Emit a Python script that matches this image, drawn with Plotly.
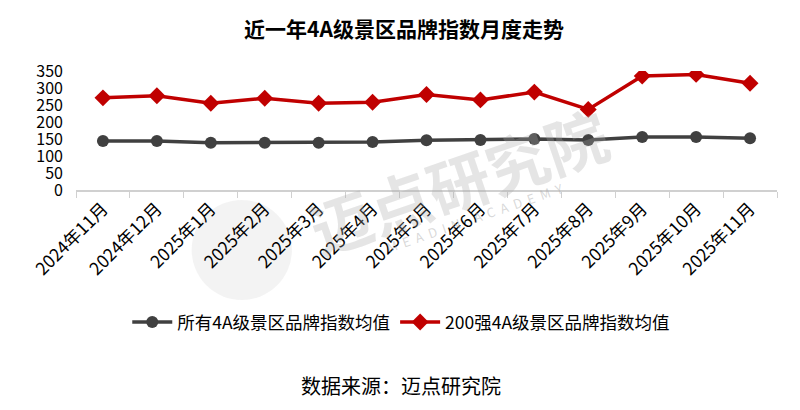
import plotly.graph_objects as go

FONT = "Noto Sans CJK SC"

months = [
    "2024年11月", "2024年12月", "2025年1月", "2025年2月", "2025年3月",
    "2025年4月", "2025年5月", "2025年6月", "2025年7月", "2025年8月",
    "2025年9月", "2025年10月", "2025年11月",
]
all_4a = [144, 144, 139, 139, 139, 141, 146, 147, 150, 147, 156, 156, 152]
top200_4a = [271, 277, 255, 270, 255, 258, 281, 265, 288, 237, 335, 340, 314]

fig = go.Figure()

fig.add_scatter(
    x=months,
    y=all_4a,
    name="所有4A级景区品牌指数均值",
    mode="lines+markers",
    line=dict(color="#404040", width=3.5),
    marker=dict(symbol="circle", size=12, color="#404040"),
)
fig.add_scatter(
    x=months,
    y=top200_4a,
    name="200强4A级景区品牌指数均值",
    mode="lines+markers",
    line=dict(color="#C00000", width=3.5),
    marker=dict(symbol="diamond", size=13, color="#C00000"),
)

# faint watermark (logo disc + text)
fig.add_shape(
    type="circle",
    xref="paper", yref="paper",
    x0=0.165, x1=0.308, y0=-0.924, y1=-0.084,
    fillcolor="rgba(200,200,200,0.22)",
    line=dict(width=0),
    layer="below",
)
fig.add_annotation(
    text="<b>迈点研究院</b>",
    xref="paper", yref="paper",
    x=0.545, y=0.084,
    xanchor="center", yanchor="middle",
    showarrow=False,
    textangle=-19,
    font=dict(family=FONT, size=62, color="rgba(170,170,170,0.3)"),
)
fig.add_annotation(
    text="M  E  A  D  I  N     A  C  A  D  E  M  Y",
    xref="paper", yref="paper",
    x=0.569, y=-0.235,
    xanchor="center", yanchor="middle",
    showarrow=False,
    textangle=-19,
    font=dict(family=FONT, size=13, color="rgba(170,170,170,0.45)"),
)

fig.add_annotation(
    text="数据来源：迈点研究院",
    xref="paper", yref="paper",
    x=0.464, y=-1.64,
    xanchor="center", yanchor="middle",
    showarrow=False,
    font=dict(family=FONT, size=20, color="#000000"),
)

# the page adds an 8px body margin, so the figure is 8px smaller than the window
fig.update_layout(
    width=792,
    height=402,
    margin=dict(l=68, r=23, t=63, b=220),
    paper_bgcolor="white",
    plot_bgcolor="rgba(0,0,0,0)",
    font=dict(family=FONT, color="#000000"),
    title=dict(
        text="<b>近一年4A级景区品牌指数月度走势</b>",
        x=0.5, xanchor="center",
        y=0.945, yanchor="middle",
        font=dict(family=FONT, size=21, color="#000000"),
    ),
    showlegend=True,
    legend=dict(
        orientation="h",
        x=0.464, xanchor="center",
        y=-1.11, yanchor="middle",
        font=dict(family=FONT, size=17.5),
        itemwidth=40,
        tracegroupgap=0,
    ),
)

fig.update_xaxes(
    type="category",
    range=[-0.5, len(months) - 0.5],
    automargin=False,
    showline=True,
    linecolor="#d0d0d0",
    linewidth=1.5,
    ticks="outside",
    tickson="boundaries",
    ticklen=6,
    tickcolor="#d0d0d0",
    tickangle=-45,
    tickfont=dict(family=FONT, size=17.5),
    showgrid=False,
)
fig.update_yaxes(
    range=[0, 350],
    automargin=False,
    tickvals=[0, 50, 100, 150, 200, 250, 300, 350],
    showgrid=False,
    zeroline=False,
    showline=False,
    ticklabelstandoff=12,
    tickfont=dict(family=FONT, size=16),
)

fig.write_html("out.html")
